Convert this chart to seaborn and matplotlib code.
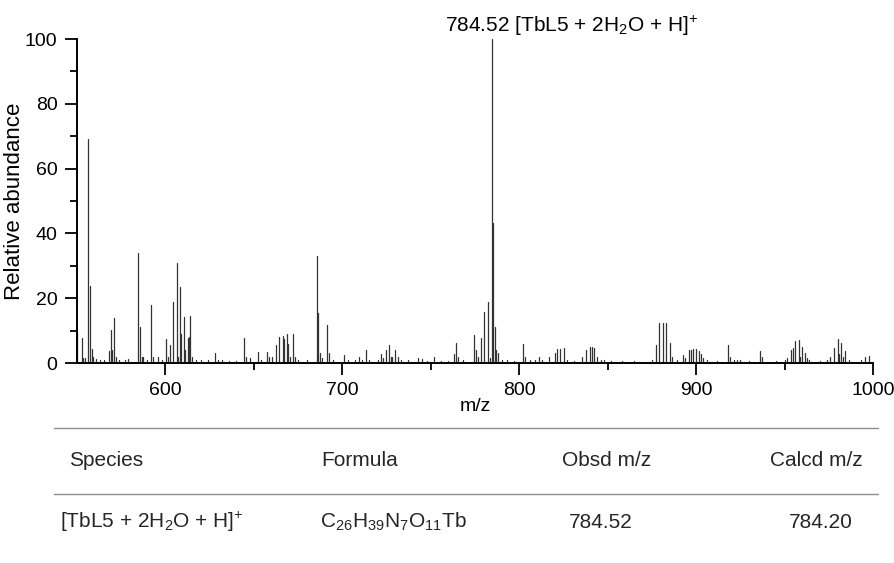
import numpy as np
import pandas as pd
import matplotlib
matplotlib.use("Agg")
import matplotlib.pyplot as plt
from matplotlib.lines import Line2D
import seaborn as sns

# ---------------- data ----------------
peak_mz = [
    550.2, 552.6, 553.5, 554.5, 556.4, 557.5, 558.3, 559.2, 561.0, 563.0, 565.5,
    568.3, 569.2, 570.0, 570.9, 572.0, 574.0, 577.0, 579.0, 584.3, 585.4, 586.5,
    587.5, 589.5, 591.8, 593.0, 596.0, 598.0, 600.5, 601.5, 602.5, 604.4, 606.3,
    607.0, 608.4, 609.0, 610.5, 611.3, 612.5, 613.3, 613.8, 614.8, 617.0, 620.0,
    624.0, 628.1, 629.5, 632.0, 636.0, 640.0, 644.4, 645.5, 648.0, 652.1, 654.0,
    657.2, 658.5, 660.5, 662.3, 664.3, 666.2, 667.0, 668.5, 669.5, 670.5, 671.9,
    673.5, 675.0, 680.0, 685.4, 686.3, 687.5, 688.5, 691.1, 692.3, 695.0, 701.2,
    703.0, 707.0, 709.5, 711.0, 713.3, 715.0, 720.0, 722.0, 723.0, 724.6, 726.5,
    727.5, 728.3, 729.8, 731.2, 733.0, 737.0, 743.0, 745.0, 748.0, 751.9, 756.0,
    760.0, 763.2, 764.5, 765.5, 768.0, 774.3, 775.3, 776.5, 778.2, 780.1, 782.4,
    783.5, 784.5, 785.1, 786.3, 787.0, 788.2, 790.0, 793.0, 797.0, 802.2, 803.2,
    806.0, 809.0, 811.0, 813.0, 817.0, 820.0, 821.2, 823.3, 825.3, 827.0, 831.0,
    835.5, 838.0, 839.8, 841.1, 842.5, 843.8, 846.0, 848.0, 852.0, 858.0, 865.0,
    875.0, 877.1, 879.0, 881.1, 883.2, 885.2, 886.5, 889.0, 892.5, 894.0, 895.8,
    897.1, 898.2, 900.1, 901.6, 902.8, 904.0, 906.3, 912.0, 918.0, 919.0, 921.3,
    923.0, 925.0, 930.0, 936.3, 937.5, 945.0, 950.0, 951.5, 953.8, 955.0, 956.0,
    958.1, 959.0, 960.0, 961.3, 962.5, 964.0, 970.0, 974.0, 975.5, 977.9, 980.1,
    981.0, 982.0, 983.0, 984.3, 986.5, 993.0, 995.2, 997.5,
]
peak_intensity = [
    9.7, 7.6, 1.5, 1.5, 69.1, 23.9, 4.2, 2.0, 1.2, 1.0, 0.8,
    3.7, 10.2, 4.0, 14.0, 2.0, 1.0, 0.8, 1.2, 34.0, 11.2, 2.0,
    1.8, 1.0, 17.9, 2.0, 2.0, 0.8, 7.4, 2.0, 5.7, 18.9, 30.8,
    2.0, 23.6, 9.0, 14.1, 4.0, 7.6, 8.0, 14.6, 2.0, 1.0, 1.0,
    0.8, 3.2, 1.0, 1.0, 0.7, 0.7, 7.8, 2.0, 1.5, 3.5, 1.0,
    3.5, 2.0, 2.0, 5.6, 7.9, 8.3, 7.5, 8.9, 6.0, 2.0, 8.9,
    2.0, 1.0, 0.8, 33.1, 15.3, 3.0, 1.5, 11.7, 3.0, 0.8, 2.5,
    0.8, 0.8, 1.8, 1.0, 4.0, 1.0, 1.0, 2.8, 1.5, 4.0, 5.7,
    2.0, 2.0, 4.0, 2.0, 1.0, 0.8, 1.5, 1.3, 0.7, 2.0, 0.7,
    0.7, 2.8, 6.3, 2.0, 0.8, 8.6, 4.0, 2.0, 7.8, 15.8, 18.7,
    1.5, 100.0, 43.3, 11.0, 4.0, 3.0, 1.0, 1.0, 0.7, 5.9, 2.0,
    0.8, 1.0, 2.0, 0.8, 2.0, 3.0, 4.2, 4.2, 4.5, 1.0, 0.7,
    2.0, 4.0, 4.8, 4.8, 4.5, 2.0, 1.0, 1.0, 0.7, 0.7, 0.7,
    1.0, 5.7, 12.5, 12.5, 12.5, 6.3, 2.0, 0.8, 2.5, 1.5, 4.0,
    4.0, 4.2, 4.2, 3.8, 2.8, 1.5, 1.0, 0.7, 5.6, 2.0, 1.0,
    1.0, 1.0, 0.7, 3.8, 2.0, 0.7, 1.0, 1.5, 4.0, 4.5, 6.9,
    7.0, 2.0, 5.0, 3.0, 1.5, 1.0, 0.7, 1.0, 2.0, 4.5, 7.4,
    2.8, 6.3, 2.0, 3.8, 1.0, 1.0, 2.0, 2.2,
]

x_ticks = [600, 700, 800, 900, 1000]
x_minor = [650, 750, 850, 950]
y_ticks = [0, 20, 40, 60, 80, 100]
y_minor = [10, 30, 50, 70, 90]

annot_text = r"784.52 [TbL5 + 2H$\mathregular{_2}$O + H]$\mathregular{\!^+}$"

table_headers = ["Species", "Formula", "Obsd m/z", "Calcd m/z"]
table_row = [
    r"[TbL5 + 2H$\mathregular{_2}$O + H]$\mathregular{\!^+}$",
    r"C$\mathregular{_{26}}$H$\mathregular{_{39}}$N$\mathregular{_7}$O$\mathregular{_{11}}$Tb",
    "784.52",
    "784.20",
]

# ---------------- style ----------------
sns.set_theme(style="ticks")
plt.rcParams["font.family"] = ["Liberation Sans", "DejaVu Sans"]
plt.rcParams["mathtext.fontset"] = "custom"
plt.rcParams["mathtext.rm"] = "Liberation Sans"
plt.rcParams["mathtext.it"] = "Liberation Sans:italic"
plt.rcParams["mathtext.bf"] = "Liberation Sans:bold"

# long-form table: each stick is a two-point line (baseline -> top)
rows = []
for i, (m, h) in enumerate(zip(peak_mz, peak_intensity)):
    rows.append({"mz": m, "intensity": 0.0, "peak": i})
    rows.append({"mz": m, "intensity": h, "peak": i})
df = pd.DataFrame(rows)

fig = plt.figure(figsize=(8.94, 5.63), dpi=100)
ax = fig.add_axes([77 / 894, 1 - 363 / 563, 796 / 894, 324 / 563])

sns.lineplot(data=df, x="mz", y="intensity", units="peak", estimator=None,
             color="#333333", linewidth=0.9, ax=ax, legend=False)

ax.set_xlim(550, 1000)
ax.set_ylim(0, 100)
ax.set_xticks(x_ticks)
ax.set_xticks(x_minor, minor=True)
ax.set_yticks(y_ticks)
ax.set_yticks(y_minor, minor=True)
ax.tick_params(axis="both", which="major", length=8.5, width=1.3,
               labelsize=14, color="black", labelcolor="black", pad=5.5)
ax.tick_params(axis="both", which="minor", length=5, width=1.3, color="black")
sns.despine(ax=ax)
for s in ("left", "bottom"):
    ax.spines[s].set_linewidth(1.4)
    ax.spines[s].set_color("black")

ax.set_xlabel("m/z", fontsize=14, color="black", labelpad=-1)
ax.set_ylabel("Relative abundance", fontsize=16, color="black", labelpad=0)

ax.text(758, 102.3, annot_text, ha="left", va="baseline", fontsize=15,
        color="black", clip_on=False)

# ---------------- table below ----------------
line_kw = dict(color="#8c8c8c", linewidth=1.0, transform=fig.transFigure)
fig.add_artist(Line2D([54 / 894, 878 / 894], [1 - 428 / 563] * 2, **line_kw))
fig.add_artist(Line2D([54 / 894, 878 / 894], [1 - 494 / 563] * 2, **line_kw))

hy = 1 - 460 / 563
ry = 1 - 522 / 563
fs = 15
fig.text(69 / 894, hy, table_headers[0], ha="left", va="center", fontsize=fs)
fig.text(321 / 894, hy, table_headers[1], ha="left", va="center", fontsize=fs)
fig.text(607 / 894, hy, table_headers[2], ha="center", va="center", fontsize=fs)
fig.text(816 / 894, hy, table_headers[3], ha="center", va="center", fontsize=fs)

fig.text(60 / 894, ry, table_row[0], ha="left", va="center", fontsize=fs)
fig.text(320 / 894, ry, table_row[1], ha="left", va="center", fontsize=fs)
fig.text(601 / 894, ry, table_row[2], ha="center", va="center", fontsize=fs)
fig.text(821 / 894, ry, table_row[3], ha="center", va="center", fontsize=fs)

fig.savefig("out.png", dpi=100)
